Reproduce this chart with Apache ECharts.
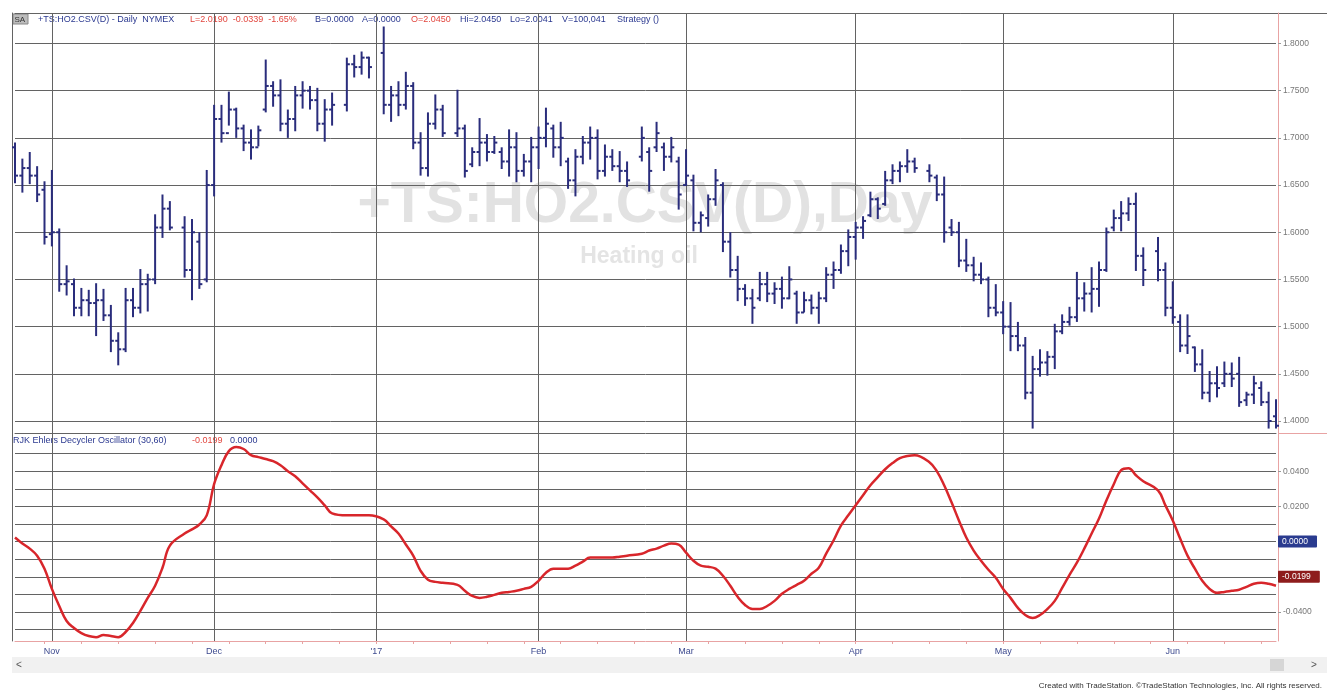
<!DOCTYPE html>
<html><head><meta charset="utf-8">
<script src="https://cdn.jsdelivr.net/npm/echarts@6/dist/echarts.min.js"></script>
<style>html,body{margin:0;padding:0;background:#fff}#c{width:1327px;height:697px}</style>
</head><body><div id="c"></div>
<script>
// ---- categories: weekday slots (holidays are empty slots) ----
const categories = [
'2016-10-25','2016-10-26','2016-10-27','2016-10-28','2016-10-31',
'2016-11-01','2016-11-02','2016-11-03','2016-11-04','2016-11-07','2016-11-08','2016-11-09','2016-11-10','2016-11-11','2016-11-14','2016-11-15','2016-11-16','2016-11-17','2016-11-18','2016-11-21','2016-11-22','2016-11-23','2016-11-24','2016-11-25','2016-11-28','2016-11-29','2016-11-30',
'2016-12-01','2016-12-02','2016-12-05','2016-12-06','2016-12-07','2016-12-08','2016-12-09','2016-12-12','2016-12-13','2016-12-14','2016-12-15','2016-12-16','2016-12-19','2016-12-20','2016-12-21','2016-12-22','2016-12-23','2016-12-26','2016-12-27','2016-12-28','2016-12-29','2016-12-30',
'2017-01-02','2017-01-03','2017-01-04','2017-01-05','2017-01-06','2017-01-09','2017-01-10','2017-01-11','2017-01-12','2017-01-13','2017-01-16','2017-01-17','2017-01-18','2017-01-19','2017-01-20','2017-01-23','2017-01-24','2017-01-25','2017-01-26','2017-01-27','2017-01-30','2017-01-31',
'2017-02-01','2017-02-02','2017-02-03','2017-02-06','2017-02-07','2017-02-08','2017-02-09','2017-02-10','2017-02-13','2017-02-14','2017-02-15','2017-02-16','2017-02-17','2017-02-20','2017-02-21','2017-02-22','2017-02-23','2017-02-24','2017-02-27','2017-02-28',
'2017-03-01','2017-03-02','2017-03-03','2017-03-06','2017-03-07','2017-03-08','2017-03-09','2017-03-10','2017-03-13','2017-03-14','2017-03-15','2017-03-16','2017-03-17','2017-03-20','2017-03-21','2017-03-22','2017-03-23','2017-03-24','2017-03-27','2017-03-28','2017-03-29','2017-03-30','2017-03-31',
'2017-04-03','2017-04-04','2017-04-05','2017-04-06','2017-04-07','2017-04-10','2017-04-11','2017-04-12','2017-04-13','2017-04-14','2017-04-17','2017-04-18','2017-04-19','2017-04-20','2017-04-21','2017-04-24','2017-04-25','2017-04-26','2017-04-27','2017-04-28',
'2017-05-01','2017-05-02','2017-05-03','2017-05-04','2017-05-05','2017-05-08','2017-05-09','2017-05-10','2017-05-11','2017-05-12','2017-05-15','2017-05-16','2017-05-17','2017-05-18','2017-05-19','2017-05-22','2017-05-23','2017-05-24','2017-05-25','2017-05-26','2017-05-29','2017-05-30','2017-05-31',
'2017-06-01','2017-06-02','2017-06-05','2017-06-06','2017-06-07','2017-06-08','2017-06-09','2017-06-12','2017-06-13','2017-06-14','2017-06-15','2017-06-16','2017-06-19','2017-06-20','2017-06-21'
];

// ---- OHLC (null = holiday) ----
const opens = [1.690,1.660,1.668,1.660,1.645,1.598,1.600,1.545,1.545,1.520,1.528,1.525,1.528,1.512,1.485,1.476,1.528,1.520,1.545,1.550,1.605,1.625,null,1.605,1.560,1.590,1.550,
1.650,1.720,1.705,1.730,1.710,1.695,1.690,1.730,1.755,1.745,1.715,1.720,1.745,1.750,1.740,1.715,1.730,null,1.735,1.778,1.775,1.785,
null,1.790,1.735,1.745,1.735,1.755,1.695,1.668,1.715,1.730,null,1.705,1.710,1.672,1.685,1.695,1.685,1.685,1.675,1.690,1.665,1.675,
1.690,1.700,1.710,1.690,1.675,1.655,1.680,1.695,1.700,1.665,1.680,1.670,1.665,null,1.680,1.685,1.690,1.690,1.680,1.675,
1.650,1.655,1.610,1.615,1.635,1.650,1.590,1.560,1.540,1.530,1.530,1.545,1.535,1.540,1.530,1.535,1.515,1.528,1.520,1.530,1.555,1.560,1.580,
1.595,1.605,1.618,1.635,1.630,1.655,1.665,1.670,1.675,null,1.665,1.658,1.640,1.605,1.600,1.570,1.565,1.555,1.550,1.520,
1.515,1.500,1.490,1.480,1.430,1.455,1.462,1.468,1.495,1.505,1.510,1.530,1.535,1.540,1.560,1.605,1.615,1.620,1.630,1.575,null,1.580,1.560,
1.520,1.505,1.480,1.478,1.460,1.430,1.440,1.440,1.450,1.450,1.422,1.428,1.435,1.420,1.405];
const highs = [1.695,1.678,1.685,1.670,1.654,1.666,1.604,1.565,1.551,1.541,1.539,1.546,1.540,1.523,1.494,1.541,1.541,1.561,1.556,1.619,1.640,1.633,null,1.617,1.614,1.600,1.666,
1.735,1.735,1.749,1.732,1.714,1.709,1.713,1.783,1.760,1.762,1.730,1.755,1.760,1.755,1.753,1.741,1.748,null,1.785,1.788,1.7915,1.786,
null,1.818,1.755,1.760,1.770,1.759,1.706,1.727,1.746,1.735,null,1.751,1.714,1.690,1.721,1.704,1.702,1.690,1.709,1.706,1.683,1.701,
1.712,1.732,1.714,1.717,1.679,1.688,1.702,1.712,1.709,1.693,1.688,1.686,1.675,null,1.712,1.690,1.717,1.695,1.701,1.680,
1.688,1.661,1.622,1.640,1.667,1.653,1.600,1.575,1.545,1.540,1.558,1.558,1.547,1.553,1.564,1.538,1.537,1.534,1.537,1.563,1.569,1.587,1.603,
1.611,1.617,1.643,1.637,1.665,1.672,1.675,1.688,1.679,null,1.672,1.661,1.659,1.614,1.611,1.593,1.574,1.568,1.553,1.545,
1.527,1.526,1.505,1.489,1.469,1.476,1.474,1.503,1.513,1.521,1.558,1.547,1.563,1.569,1.605,1.624,1.633,1.637,1.642,1.584,null,1.595,1.568,
1.548,1.513,1.513,1.479,1.476,1.453,1.458,1.463,1.462,1.468,1.431,1.448,1.442,1.431,1.423];
const lows = [1.652,1.642,1.651,1.632,1.587,1.585,1.537,1.533,1.511,1.511,1.511,1.490,1.506,1.473,1.459,1.473,1.510,1.514,1.516,1.545,1.594,1.602,null,1.552,1.528,1.540,1.547,
1.638,1.695,1.713,1.700,1.686,1.677,1.691,1.727,1.733,1.707,1.700,1.707,1.731,1.730,1.707,1.696,1.713,null,1.728,1.764,1.767,1.763,
null,1.725,1.717,1.723,1.730,1.688,1.660,1.659,1.709,1.701,null,1.701,1.658,1.669,1.670,1.675,1.683,1.667,1.659,1.653,1.659,1.653,
1.667,1.690,1.679,1.670,1.646,1.638,1.672,1.677,1.656,1.659,1.665,1.653,1.648,null,1.675,1.643,1.685,1.665,1.674,1.624,
1.649,1.601,1.600,1.606,1.628,1.579,1.552,1.527,1.522,1.503,1.527,1.526,1.524,1.519,1.529,1.503,1.515,1.513,1.503,1.526,1.540,1.556,1.564,
1.571,1.593,1.616,1.614,1.628,1.651,1.653,1.663,1.663,null,1.653,1.633,1.589,1.596,1.563,1.558,1.548,1.545,1.510,1.511,
1.492,1.474,1.474,1.423,1.392,1.447,1.448,1.455,1.492,1.501,1.505,1.516,1.515,1.521,1.558,1.601,1.601,1.612,1.559,1.543,null,1.548,1.511,
1.503,1.473,1.471,1.452,1.423,1.420,1.425,1.436,1.436,1.415,1.416,1.418,1.416,1.392,1.392];
const closes = [1.660,1.668,1.660,1.640,1.595,1.600,1.545,1.548,1.520,1.528,1.525,1.528,1.512,1.485,1.476,1.528,1.520,1.545,1.550,1.605,1.625,1.605,null,1.560,1.600,1.545,1.650,
1.720,1.705,1.730,1.710,1.695,1.690,1.708,1.755,1.745,1.715,1.720,1.745,1.750,1.740,1.715,1.730,1.735,null,1.778,1.775,1.785,1.775,
null,1.735,1.745,1.735,1.755,1.695,1.668,1.715,1.730,1.705,null,1.710,1.665,1.685,1.695,1.685,1.695,1.675,1.690,1.665,1.675,1.690,
1.700,1.715,1.690,1.700,1.655,1.680,1.695,1.700,1.665,1.680,1.670,1.665,1.655,null,1.700,1.665,1.705,1.680,1.690,1.640,
1.660,1.610,1.618,1.635,1.655,1.590,1.560,1.540,1.530,1.520,1.545,1.535,1.540,1.530,1.550,1.515,1.528,1.520,1.530,1.555,1.560,1.580,1.595,
1.605,1.612,1.635,1.625,1.655,1.665,1.670,1.675,1.668,null,1.660,1.640,1.600,1.600,1.570,1.565,1.555,1.550,1.520,1.515,
1.500,1.490,1.480,1.430,1.455,1.462,1.468,1.495,1.505,1.510,1.530,1.535,1.540,1.560,1.600,1.615,1.620,1.630,1.575,1.560,null,1.560,1.520,
1.510,1.480,1.490,1.460,1.430,1.440,1.435,1.450,1.445,1.420,1.428,1.440,1.420,1.400,1.395];

// ---- Ehlers Decycler Oscillator (30,60) ----
const decycler = [0.0023,-0.0011,-0.0040,-0.0080,-0.0154,-0.0269,-0.0366,-0.0451,-0.0491,-0.0520,-0.0537,-0.0543,-0.0531,-0.0537,-0.0543,-0.0514,-0.0463,-0.0394,-0.0320,-0.0251,-0.0149,-0.0023,null,0.0046,0.0069,0.0097,0.0149,
0.0326,0.0434,0.0514,0.0537,0.0526,0.0491,0.0480,0.0469,0.0457,0.0434,0.0400,0.0371,0.0331,0.0291,0.0251,0.0206,0.0160,null,0.0149,0.0149,0.0149,0.0149,
null,0.0126,0.0086,0.0046,-0.0017,-0.0080,-0.0166,-0.0217,-0.0229,-0.0234,null,-0.0246,-0.0280,-0.0309,-0.0320,-0.0314,-0.0303,-0.0291,-0.0286,-0.0280,-0.0269,-0.0257,
-0.0223,-0.0177,-0.0154,-0.0154,-0.0154,-0.0137,-0.0114,-0.0091,-0.0091,-0.0091,-0.0091,-0.0086,-0.0080,null,-0.0069,-0.0051,-0.0040,-0.0023,-0.0011,-0.0017,
-0.0063,-0.0109,-0.0137,-0.0143,-0.0154,-0.0194,-0.0251,-0.0314,-0.0360,-0.0383,-0.0383,-0.0366,-0.0337,-0.0297,-0.0269,-0.0246,-0.0223,-0.0183,-0.0149,-0.0069,0.0006,0.0091,0.0149,
0.0206,0.0263,0.0320,0.0366,0.0411,0.0446,0.0474,0.0486,0.0491,null,0.0451,0.0400,0.0320,0.0223,0.0120,0.0023,-0.0051,-0.0109,-0.0160,-0.0206,
-0.0269,-0.0320,-0.0377,-0.0417,-0.0434,-0.0417,-0.0383,-0.0337,-0.0263,-0.0189,-0.0120,-0.0040,0.0046,0.0131,0.0234,0.0326,0.0406,0.0417,0.0377,0.0343,null,0.0291,0.0206,
0.0120,0.0017,-0.0080,-0.0154,-0.0223,-0.0269,-0.0291,-0.0286,-0.0280,-0.0274,-0.0257,-0.0240,-0.0234,-0.0240,-0.0251];

// ---- axis ticks / labels ----
const priceTicks = [1.40,1.45,1.50,1.55,1.60,1.65,1.70,1.75,1.80];
const oscGridTicks = [-0.05,-0.04,-0.03,-0.02,-0.01,0,0.01,0.02,0.03,0.04,0.05];
const oscLabelTicks = [-0.04,0.02,0.04];
const monthStarts = ['2016-11-01','2016-12-01','2017-01-02','2017-02-01','2017-03-01','2017-04-03','2017-05-01','2017-06-01'];
const monthLabels = ['Nov','Dec','\'17','Feb','Mar','Apr','May','Jun'];
const zeroLevel = 0.0000;
const lastOscValue = -0.0199;

const ohlcData = [];
for (let i = 0; i < categories.length; i++) {
  if (highs[i] != null) ohlcData.push([i, opens[i], highs[i], lows[i], closes[i]]);
}

const BAR = '#2a2d7c', GRID = '#636363', PINK = '#e8a3a3', BLUE_T = '#2b3990', RED_T = '#e2463e';
const FONT = '"Liberation Sans", Arial, sans-serif';
const isMonth = (i, v) => monthStarts.indexOf(v) >= 0;
const isMonday = (i, v) => new Date(v + 'T00:00:00Z').getUTCDay() === 1;

const chart = echarts.init(document.getElementById('c'));
const gridL = 15, gridR = 51;
const catAxis = (extra) => Object.assign({
  type: 'category', data: categories, boundaryGap: false,
  axisLabel: {show: false}, axisTick: {show: false}, splitLine: {show: false},
  axisLine: {show: true, onZero: false, lineStyle: {color: GRID, width: 1}}
}, extra);

function hText(x, y, text, color, size, extra) {
  return Object.assign({type: 'text', x: x, y: y, silent: true,
    style: {text: text, fill: color, font: (size || 9) + 'px ' + FONT, textVerticalAlign: 'middle'}}, extra || {});
}
function boxLabel(txt, bg) {
  return {show: true, position: 'end', distance: 2, formatter: txt,
    backgroundColor: bg, color: '#fff', fontSize: 8.5, fontFamily: FONT, padding: [2, 9, 1, 4], borderRadius: 1};
}

chart.setOption({
  animation: false,
  backgroundColor: '#fff',
  grid: [
    {left: gridL, right: gridR, top: 13, height: 420},
    {left: gridL, right: gridR, top: 433, height: 208}
  ],
  xAxis: [
    catAxis({gridIndex: 0, position: 'top',
      splitLine: {show: true, interval: isMonth, lineStyle: {color: GRID, width: 1}}}),
    catAxis({gridIndex: 0, position: 'bottom'}),
    catAxis({gridIndex: 1, position: 'bottom',
      axisLine: {show: true, onZero: false, lineStyle: {color: PINK, width: 1}},
      axisTick: {show: true, interval: isMonday, length: 3, lineStyle: {color: PINK}},
      axisLabel: {show: true, interval: isMonth, margin: 6, color: '#3d4a8f', fontSize: 9, fontFamily: FONT,
        formatter: (v) => { const k = monthStarts.indexOf(v); return k >= 0 ? monthLabels[k] : ''; }},
      splitLine: {show: true, interval: isMonth, lineStyle: {color: GRID, width: 1}}})
  ],
  yAxis: [
    {gridIndex: 0, type: 'value', position: 'right', offset: 2, min: 1.3873, max: 1.8323,
      axisLine: {show: true, lineStyle: {color: PINK}},
      axisTick: {show: true, customValues: priceTicks, length: 3, lineStyle: {color: '#999'}},
      axisLabel: {show: true, customValues: priceTicks, margin: 5, color: '#777', fontSize: 8.5, fontFamily: FONT,
        formatter: (v) => v.toFixed(4)},
      splitLine: {show: false}},
    {gridIndex: 0, type: 'value', position: 'left', offset: 3, min: 1.3873, max: 1.8323,
      axisLine: {show: true, lineStyle: {color: GRID}},
      axisTick: {show: false, customValues: priceTicks}, axisLabel: {show: false},
      splitLine: {show: true, lineStyle: {color: GRID, width: 1}}},
    {gridIndex: 1, type: 'value', position: 'right', offset: 2, min: -0.0565, max: 0.0617,
      axisLine: {show: true, lineStyle: {color: PINK}},
      axisTick: {show: true, customValues: oscLabelTicks, length: 3, lineStyle: {color: '#999'}},
      axisLabel: {show: true, customValues: oscLabelTicks, margin: 5, color: '#777', fontSize: 8.5, fontFamily: FONT,
        formatter: (v) => v.toFixed(4)},
      splitLine: {show: false}},
    {gridIndex: 1, type: 'value', position: 'left', offset: 3, min: -0.0565, max: 0.0617,
      axisLine: {show: true, lineStyle: {color: GRID}},
      axisTick: {show: false, customValues: oscGridTicks}, axisLabel: {show: false},
      splitLine: {show: true, lineStyle: {color: GRID, width: 1}}}
  ],
  graphic: [
    // watermark
    {type: 'text', x: 645, y: 206, z: -10, silent: true, style: {text: '+TS:HO2.CSV(D),Day', fill: '#e2e2e2', font: 'bold 57px ' + FONT, textAlign: 'center', textVerticalAlign: 'middle'}},
    {type: 'text', x: 639, y: 257, z: -10, silent: true, style: {text: 'Heating oil', fill: '#e4e4e4', font: 'bold 23px ' + FONT, textAlign: 'center', textVerticalAlign: 'middle'}},
    // header upper
    {type: 'rect', shape: {x: 13, y: 14, width: 15, height: 10}, style: {fill: '#bdbdbd', stroke: '#888'}, silent: true},
    hText(14.5, 19.5, 'SA', '#333', 8),
    hText(38, 19.5, '+TS:HO2.CSV(D) - Daily  NYMEX', BLUE_T, 9),
    hText(190, 19.5, 'L=2.0190  -0.0339  -1.65%', RED_T, 9),
    hText(315, 19.5, 'B=0.0000', BLUE_T, 9),
    hText(362, 19.5, 'A=0.0000', BLUE_T, 9),
    hText(411, 19.5, 'O=2.0450', RED_T, 9),
    hText(460, 19.5, 'Hi=2.0450', BLUE_T, 9),
    hText(510, 19.5, 'Lo=2.0041', BLUE_T, 9),
    hText(562, 19.5, 'V=100,041', BLUE_T, 9),
    hText(617, 19.5, 'Strategy ()', BLUE_T, 9),
    // header lower
    hText(13, 441, 'RJK Ehlers Decycler Oscillator (30,60)', BLUE_T, 9),
    hText(192, 441, '-0.0199', RED_T, 9),
    hText(230, 441, '0.0000', BLUE_T, 9),
    // frame extensions to the right edge
    {type: 'line', shape: {x1: 1276, y1: 13.5, x2: 1327, y2: 13.5}, style: {stroke: GRID, lineWidth: 1}, silent: true},
    {type: 'line', shape: {x1: 1278, y1: 433.5, x2: 1327, y2: 433.5}, style: {stroke: PINK, lineWidth: 1}, silent: true},
    // scrollbar
    {type: 'rect', shape: {x: 12, y: 657, width: 1315, height: 16}, style: {fill: '#f1f1f1'}, silent: true, z: -5},
    {type: 'rect', shape: {x: 1270, y: 659, width: 14, height: 12}, style: {fill: '#d6d6d6'}, silent: true},
    hText(16, 665, '<', '#555', 10),
    hText(1311, 665, '>', '#555', 10),
    // footer
    {type: 'text', x: 1322, y: 686, silent: true, style: {text: 'Created with TradeStation. \u00A9TradeStation Technologies, Inc. All rights reserved.', fill: '#333', font: '8px ' + FONT, textAlign: 'right', textVerticalAlign: 'middle'}}
  ],
  series: [
    {
      type: 'custom', name: 'HO2', xAxisIndex: 0, yAxisIndex: 0, data: ohlcData, z: 5,
      encode: {x: 0, y: [1, 2, 3, 4]},
      renderItem: function (params, api) {
        const i = api.value(0);
        const o = api.coord([i, api.value(1)]);
        const h = api.coord([i, api.value(2)]);
        const l = api.coord([i, api.value(3)]);
        const c = api.coord([i, api.value(4)]);
        const x = h[0];
        const st = {stroke: BAR, lineWidth: 2};
        return {type: 'group', children: [
          {type: 'line', shape: {x1: x, y1: h[1], x2: x, y2: l[1]}, style: st},
          {type: 'line', shape: {x1: x - 3, y1: o[1], x2: x, y2: o[1]}, style: st},
          {type: 'line', shape: {x1: x, y1: c[1], x2: x + 3, y2: c[1]}, style: st}
        ]};
      }
    },
    {
      type: 'line', name: 'Decycler', xAxisIndex: 2, yAxisIndex: 2, data: decycler,
      connectNulls: true, smooth: 0.4, showSymbol: false, z: 5,
      lineStyle: {color: '#d8262b', width: 2.5},
      markLine: {
        silent: true, symbol: 'none', animation: false,
        lineStyle: {color: 'rgba(0,0,0,0)', width: 1, type: 'solid'},
        data: [
          {yAxis: zeroLevel, label: boxLabel(zeroLevel.toFixed(4), '#2a3b8f')},
          {yAxis: lastOscValue, label: boxLabel(lastOscValue.toFixed(4), '#8e1c1c')}
        ]
      }
    }
  ]
});
</script>
</body></html>
